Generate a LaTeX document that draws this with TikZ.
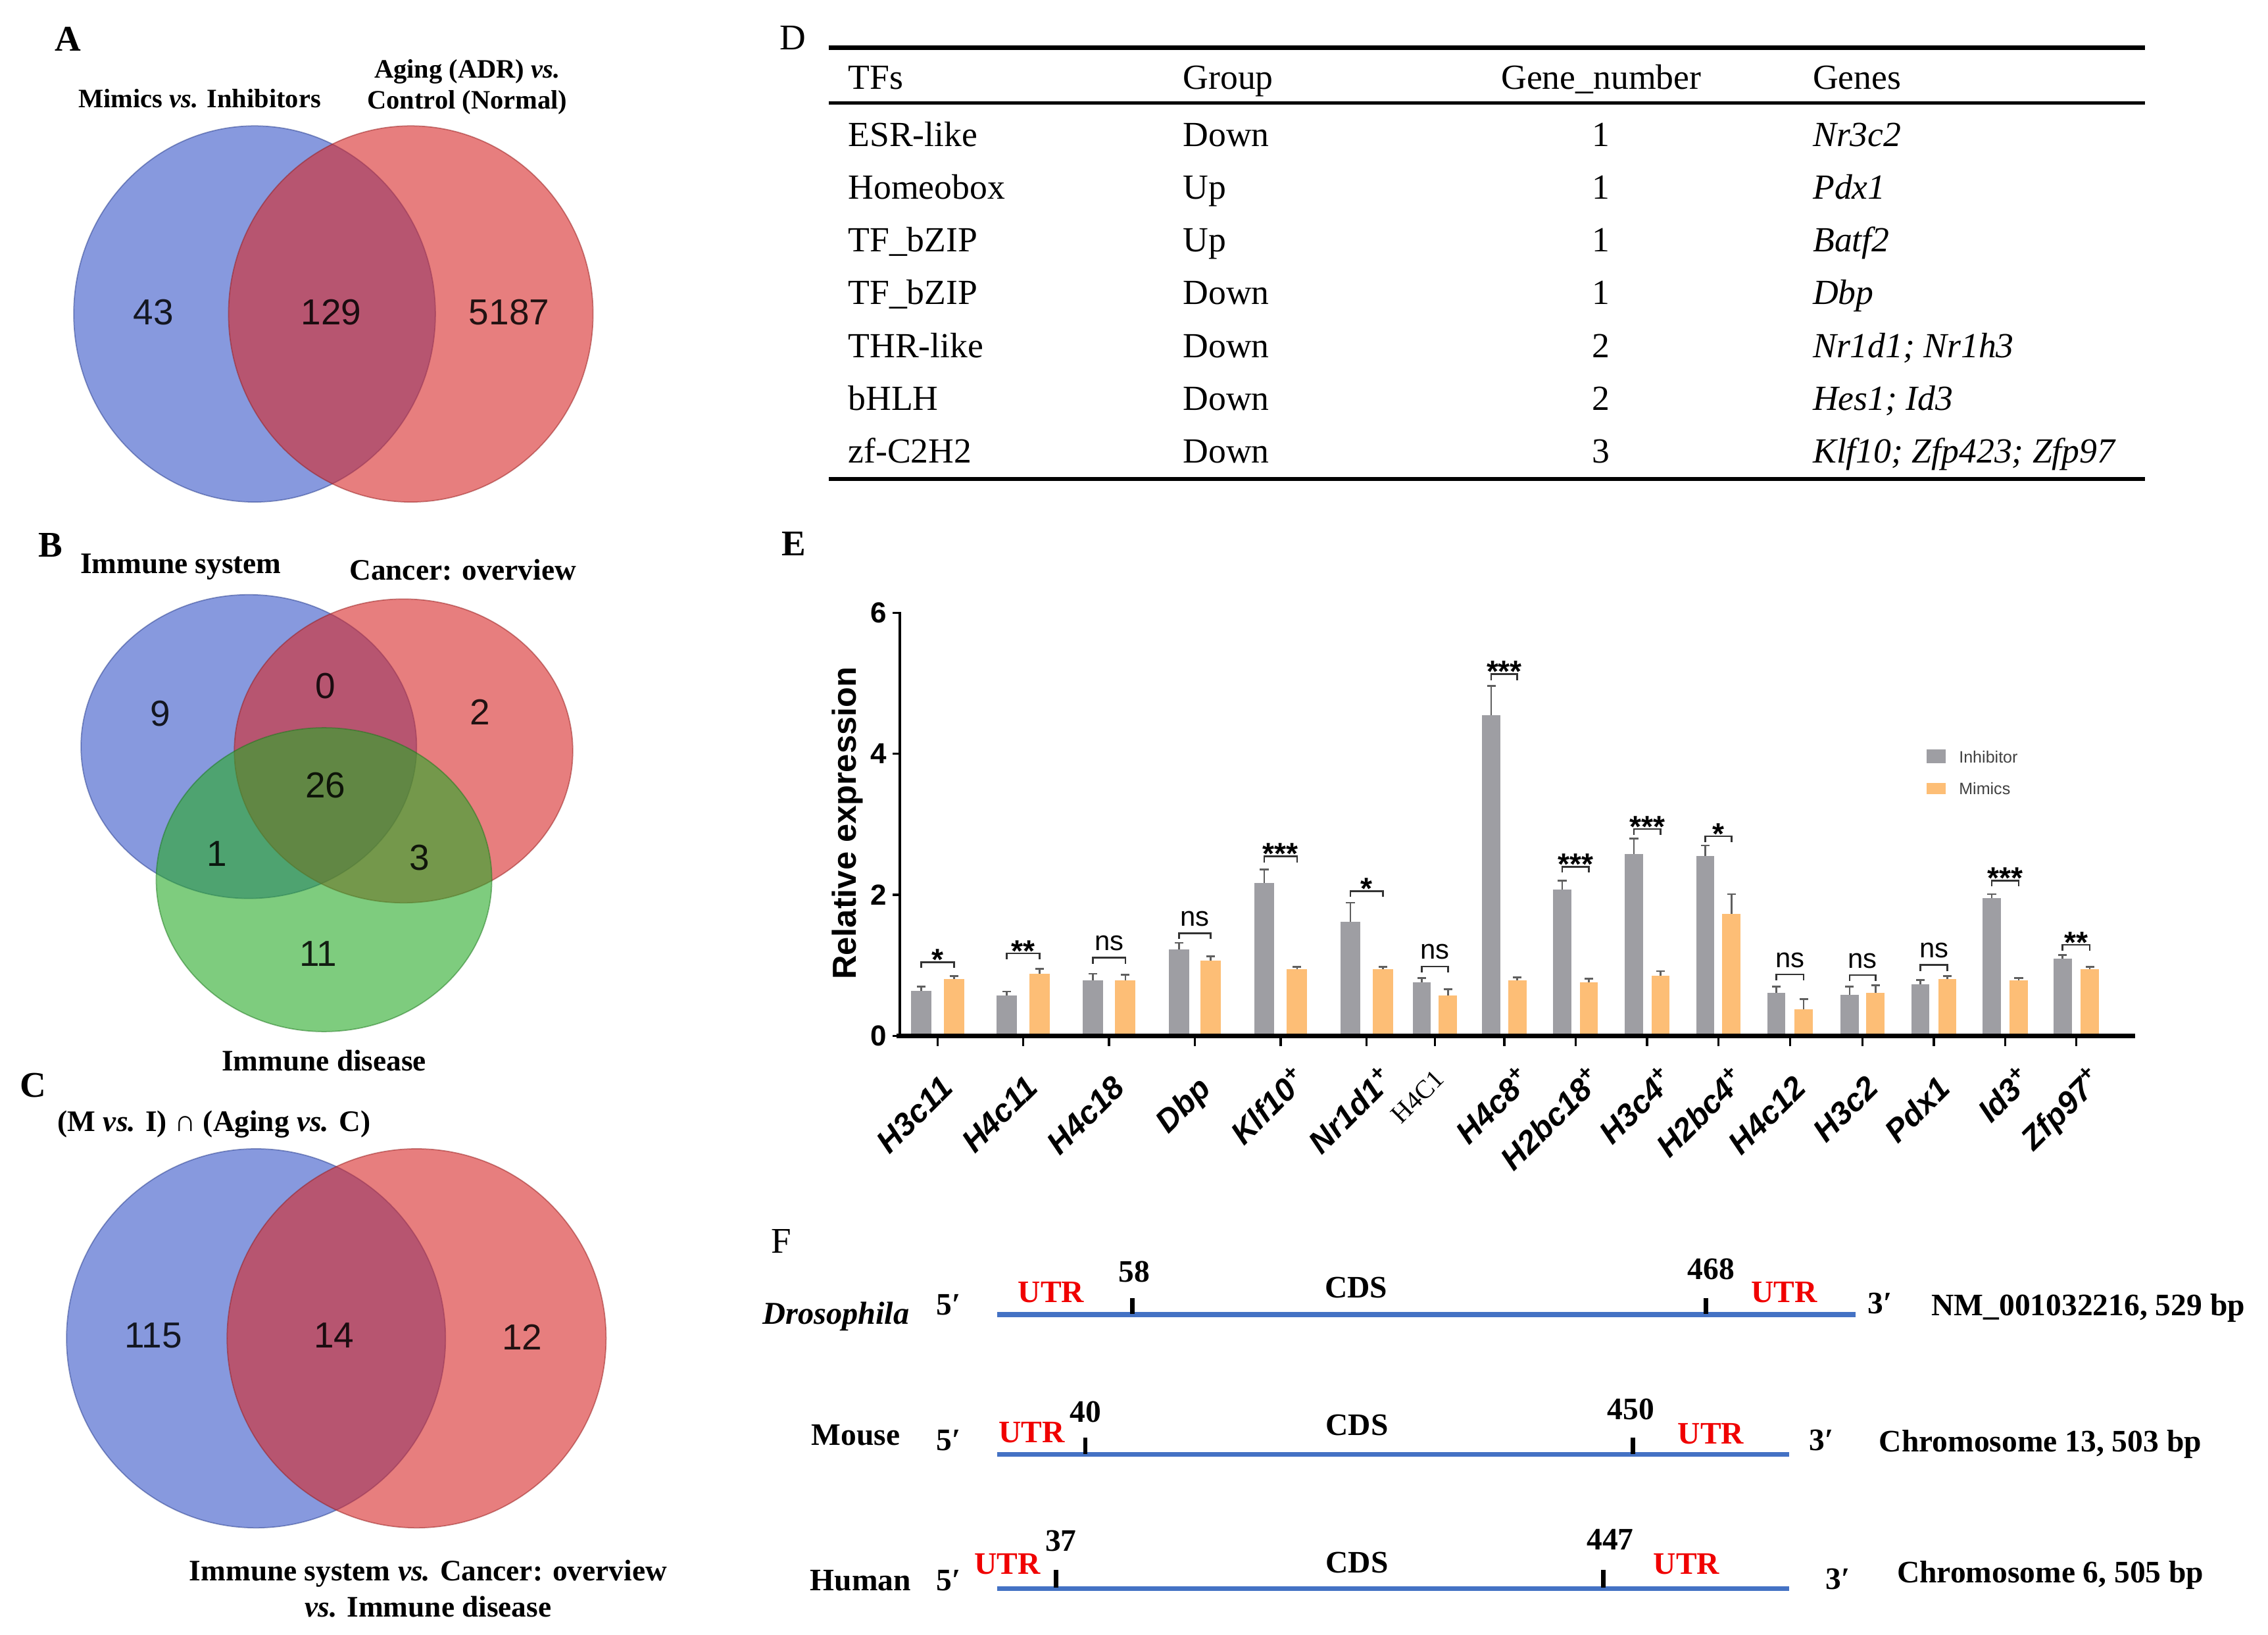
\documentclass[tikz,border=0pt]{standalone}
\usepackage{fontspec}
\setmainfont{Liberation Serif}
\setsansfont{Liberation Sans}
\definecolor{vblue}{RGB}{55,85,200}
\definecolor{vred}{RGB}{215,40,40}
\definecolor{vgreen}{RGB}{40,170,40}
\definecolor{bargray}{RGB}{158,158,163}
\definecolor{barorange}{RGB}{253,190,118}
\definecolor{errgray}{RGB}{95,95,95}
\definecolor{seqblue}{RGB}{68,114,196}
\definecolor{utrred}{RGB}{240,0,0}
\newcommand{\fsz}[1]{\fontsize{#1}{#1}\selectfont}

\begin{document}
\begin{tikzpicture}[x=0.5pt, y=-0.5pt,
  panel/.style={font=\fsz{12.5}\bfseries, inner sep=0pt},
  vlab/.style={font=\fontsize{10.3}{12.5}\selectfont\bfseries, align=center, inner sep=0pt},
  vnum/.style={font=\sffamily\fsz{12.5}, text=black, text opacity=.85, inner sep=0pt},
  bset/.style={fill=vblue, fill opacity=.6, draw=vblue!70!black, draw opacity=.5, line width=.4pt},
  rset/.style={fill=vred, fill opacity=.6, draw=vred!70!black, draw opacity=.5, line width=.4pt},
  gset/.style={fill=vgreen, fill opacity=.6, draw=vgreen!70!black, draw opacity=.5, line width=.4pt},
  tabtxt/.style={font=\fsz{12.2}, anchor=base west, inner sep=0pt},
  ytick/.style={font=\sffamily\bfseries\fsz{10}, inner sep=0pt},
  xlab/.style={font=\sffamily\bfseries\itshape\fsz{11}, rotate=45, anchor=north east, inner sep=0pt},
  stars/.style={font=\sffamily\bfseries\fsz{10.5}, anchor=base, yshift=-2.75pt, inner sep=0pt},
  nsig/.style={font=\sffamily\fsz{9.5}, anchor=base, yshift=2.5pt, inner sep=0pt},
  errbar/.style={errgray, line width=.6pt},
  brk/.style={black!80, line width=.6pt},
  legtxt/.style={font=\sffamily\fsz{5.7}, text=black!75, anchor=west, inner sep=0pt},
  ftxt/.style={font=\fsz{10.8}\bfseries, inner sep=0pt},
  utr/.style={ftxt, text=utrred},
  seqline/.style={seqblue, line width=1.7pt},
  tickm/.style={black, line width=1.5pt}]

\useasboundingbox (0,0) rectangle (1568,1130);

% ---------- A ----------
\node[panel] (labA) at (47,27) {A};
\node[vlab, font=\fsz{9.2}\bfseries] (titA1) at (138,68) {Mimics \textit{vs.} Inhibitors};
\node[vlab, font=\fontsize{9.2}{10.75}\selectfont\bfseries] (titA2) at (323,60) {Aging (ADR) \textit{vs.}\\Control (Normal)};
\draw[bset] (176,217) ellipse [x radius=125, y radius=130];
\draw[rset] (284,217) ellipse [x radius=126, y radius=130];
\node[vnum] (nA1) at (106,216) {43};
\node[vnum] (nA2) at (229,216) {129};
\node[vnum] (nA3) at (352,216) {5187};

% ---------- B ----------
\node[panel] (labB) at (35,377) {B};
\node[vlab] (titB1) at (125,392) {Immune system};
\node[vlab] (titB2) at (320,394) {Cancer: overview};
\draw[bset] (172,516) ellipse [x radius=116, y radius=105];
\draw[rset] (279,519) ellipse [x radius=117, y radius=105];
\draw[gset] (224,608) ellipse [x radius=116, y radius=105];
\node[vnum] (nB1) at (111,493) {9};
\node[vnum] (nB2) at (225,474) {0};
\node[vnum] (nB3) at (332,492) {2};
\node[vnum] (nB4) at (225,543) {26};
\node[vnum] (nB5) at (150,590) {1};
\node[vnum] (nB6) at (290,593) {3};
\node[vnum] (nB7) at (220,659) {11};
\node[vlab] (titB3) at (224,733) {Immune disease};

% ---------- C ----------
\node[panel] (labC) at (23,750) {C};
\node[vlab] (titC1) at (148,777) {(M \textit{vs.} I) ∩ (Aging \textit{vs.} C)};
\draw[bset] (177,925) ellipse [x radius=131, y radius=131];
\draw[rset] (288,925) ellipse [x radius=131, y radius=131];
\node[vnum] (nC1) at (106,923) {115};
\node[vnum] (nC2) at (231,923) {14};
\node[vnum] (nC3) at (361,924) {12};
\node[vlab] (titC2) at (296,1098) {Immune system \textit{vs.} Cancer: overview\\\textit{vs.} Immune disease};

% ---------- D ----------
\node[panel, font=\fsz{12.5}] (labD) at (548,26) {D};
\draw[line width=1.4pt] (573,33) -- (1483,33);
\draw[line width=1.1pt] (573,71) -- (1483,71);
\draw[line width=1.2pt] (573,331) -- (1483,331);
\node[tabtxt] (hTF) at (586,61.5) {TFs};
\node[tabtxt] (hGr) at (817.5,61.5) {Group};
\node[tabtxt, anchor=base] (hNu) at (1107,61.5) {Gene\_number};
\node[tabtxt] (hGe) at (1253,61.5) {Genes};
\foreach \tf/\grp/\num/\gen [count=\i] in {ESR-like/Down/1/Nr3c2, Homeobox/Up/1/Pdx1, TF\_bZIP/Up/1/Batf2, TF\_bZIP/Down/1/Dbp, THR-like/Down/2/{Nr1d1; Nr1h3}, bHLH/Down/2/{Hes1; Id3}, zf-C2H2/Down/3/{Klf10; Zfp423; Zfp97}}
{
  \pgfmathsetmacro{\ry}{101+36.5*(\i-1)}
  \node[tabtxt] (tf\i) at (586,\ry) {\tf};
  \node[tabtxt] (gr\i) at (817.5,\ry) {\grp};
  \node[tabtxt, anchor=base] (nu\i) at (1107,\ry) {\num};
  \node[tabtxt, font=\fsz{12.2}\itshape] (ge\i) at (1253,\ry) {\gen};
}

% ---------- E ----------
\node[panel] (labE) at (549,376) {E};
\foreach \xg/\xo/\hg/\eg/\ho/\eo/\w/\by/\st/\sig [count=\i] in {
  637/659.5/0.635/0.70/0.81/0.85/14/665/stars/*,
  696/718.6/0.57/0.63/0.88/0.95/14/659/stars/**,
  755.6/778/0.79/0.88/0.79/0.87/14/662/nsig/ns,
  815/837/1.23/1.32/1.07/1.13/14/645/nsig/ns,
  874/896.7/2.17/2.36/0.95/0.98/14/592/stars/***,
  933.6/956/1.62/1.89/0.95/0.98/14/616/stars/*,
  983/1001/0.76/0.82/0.57/0.66/12.5/668/nsig/ns,
  1031/1049/4.55/4.96/0.79/0.83/12.5/466/stars/***,
  1080/1098.5/2.08/2.20/0.76/0.81/12.5/599/stars/***,
  1129.6/1148/2.58/2.80/0.85/0.92/12.5/573/stars/***,
  1179/1197/2.55/2.70/1.73/2.01/12.5/578/stars/*,
  1228/1247/0.61/0.70/0.38/0.52/12.5/673.5/nsig/ns,
  1278.7/1296.6/0.58/0.70/0.61/0.72/12.5/674/nsig/ns,
  1327.7/1346.3/0.73/0.79/0.81/0.85/12.5/667/nsig/ns,
  1377/1395.6/1.95/2.01/0.79/0.82/12.5/608.6/stars/***,
  1426/1444.8/1.10/1.15/0.95/0.98/12.5/653/stars/**}
{
  \fill[bargray] ({\xg-\w/2},716) rectangle ({\xg+\w/2},{716-48.75*\hg});
  \fill[barorange] ({\xo-\w/2},716) rectangle ({\xo+\w/2},{716-48.75*\ho});
  \draw[errbar] (\xg,{716-48.75*\hg}) -- (\xg,{716-48.75*\eg})
    ({\xg-3},{716-48.75*\eg}) -- ({\xg+3},{716-48.75*\eg});
  \draw[errbar] (\xo,{716-48.75*\ho}) -- (\xo,{716-48.75*\eo})
    ({\xo-3},{716-48.75*\eo}) -- ({\xo+3},{716-48.75*\eo});
  \draw[brk] (\xg,{\by+4}) -- (\xg,\by) -- (\xo,\by) -- (\xo,{\by+4});
  \node[\st] (sig\i) at ({(\xg+\xo)/2},\by) {\sig};
  \draw[line width=.8pt] ({(\xg+\xo)/2},716) -- ({(\xg+\xo)/2},723);
}
% axes
\draw[line width=1pt] (622,717) -- (622,423);
\draw[line width=1.8pt] (620,716) -- (1476,716);
\foreach \v in {0,2,4,6} {
  \draw[line width=.8pt] (622,{716-48.75*\v}) -- (617,{716-48.75*\v});
  \node[ytick] (yt\v) at (607.5,{716-48.75*\v}) {\v};
}
\node[rotate=90, font=\sffamily\bfseries\fsz{11.5}, inner sep=0pt] (ylab) at (586,569) {Relative expression};
\foreach \gc/\lab [count=\i] in {648/H3c11, 707/H4c11, 767/H4c18, 826/Dbp,
  885/Klf10\rlap{\textsuperscript{+}}, 945/Nr1d1\rlap{\textsuperscript{+}},
  1040/H4c8\rlap{\textsuperscript{+}}, 1089/H2bc18\rlap{\textsuperscript{+}},
  1139/H3c4\rlap{\textsuperscript{+}}, 1188/H2bc4\rlap{\textsuperscript{+}},
  1238/H4c12, 1288/H3c2, 1337/Pdx1, 1386/Id3\rlap{\textsuperscript{+}},
  1435/Zfp97\rlap{\textsuperscript{+}}}
  \node[xlab] (xl\i) at ({\gc+1},742) {\lab};
\node[rotate=45, anchor=north east, font=\fsz{9}, inner sep=0pt] (xlH) at (991,738) {H4C1};
% legend
\fill[bargray] (1332,518) rectangle (1345,527.5);
\fill[barorange] (1332,541) rectangle (1345,549);
\node[legtxt] (legI) at (1354,523) {Inhibitor};
\node[legtxt] (legM) at (1354,545) {Mimics};

% ---------- F ----------
\node[panel, font=\fsz{12.5}] (labF) at (540,858) {F};
% Drosophila
\node[ftxt, font=\fsz{11}\bfseries\itshape] (spD) at (578,910) {Drosophila};
\node[ftxt] (fiveD) at (656,902) {5′};
\coordinate (sD) at (689.6,908.5);
\coordinate (eD) at (1282.8,908.5);
\draw[seqline] (sD) -- (eD);
\draw[tickm] (782.8,908) -- (782.8,897);
\draw[tickm] (1179.5,908) -- (1179.5,897);
\node[ftxt] (aD) at (784,879) {58};
\node[ftxt] (bD) at (1183,877) {468};
\node[utr] (uD1) at (726.7,893) {UTR};
\node[utr] (uD2) at (1233.5,893) {UTR};
\node[ftxt] (cD) at (937.6,890) {CDS};
\node[ftxt] (threeD) at (1299.7,901) {3′};
\node[ftxt] (iD) at (1443.7,904) {NM\_001032216, 529 bp};
% Mouse
\node[ftxt] (spM) at (591.6,992) {Mouse};
\node[ftxt] (fiveM) at (656,995.5) {5′};
\coordinate (sM) at (689.6,1005.3);
\coordinate (eM) at (1236.9,1005.3);
\draw[seqline] (sM) -- (eM);
\draw[tickm] (750.4,1005) -- (750.4,993.7);
\draw[tickm] (1128.8,1005) -- (1128.8,993.7);
\node[ftxt] (aM) at (750.4,975.8) {40};
\node[ftxt] (bM) at (1127.4,974) {450};
\node[utr] (uM1) at (713.2,990) {UTR};
\node[utr] (uM2) at (1182.8,991) {UTR};
\node[ftxt] (cM) at (938.2,985) {CDS};
\node[ftxt] (threeM) at (1259.2,995.5) {3′};
\node[ftxt] (iM) at (1410.6,998.4) {Chromosome 13, 503 bp};
% Human
\node[ftxt] (spH) at (595,1092.4) {Human};
\node[ftxt] (fiveH) at (656,1092.4) {5′};
\coordinate (sH) at (689.6,1098);
\coordinate (eH) at (1236.9,1098);
\draw[seqline] (sH) -- (eH);
\draw[tickm] (730.1,1097.5) -- (730.1,1085);
\draw[tickm] (1108.5,1097.5) -- (1108.5,1085);
\node[ftxt] (aH) at (733.5,1065) {37};
\node[ftxt] (bH) at (1113.2,1064) {447};
\node[utr] (uH1) at (696.3,1081) {UTR};
\node[utr] (uH2) at (1166,1081) {UTR};
\node[ftxt] (cH) at (938.2,1080) {CDS};
\node[ftxt] (threeH) at (1270.7,1091.4) {3′};
\node[ftxt] (iH) at (1417.6,1088.6) {Chromosome 6, 505 bp};
\end{tikzpicture}
\end{document}
